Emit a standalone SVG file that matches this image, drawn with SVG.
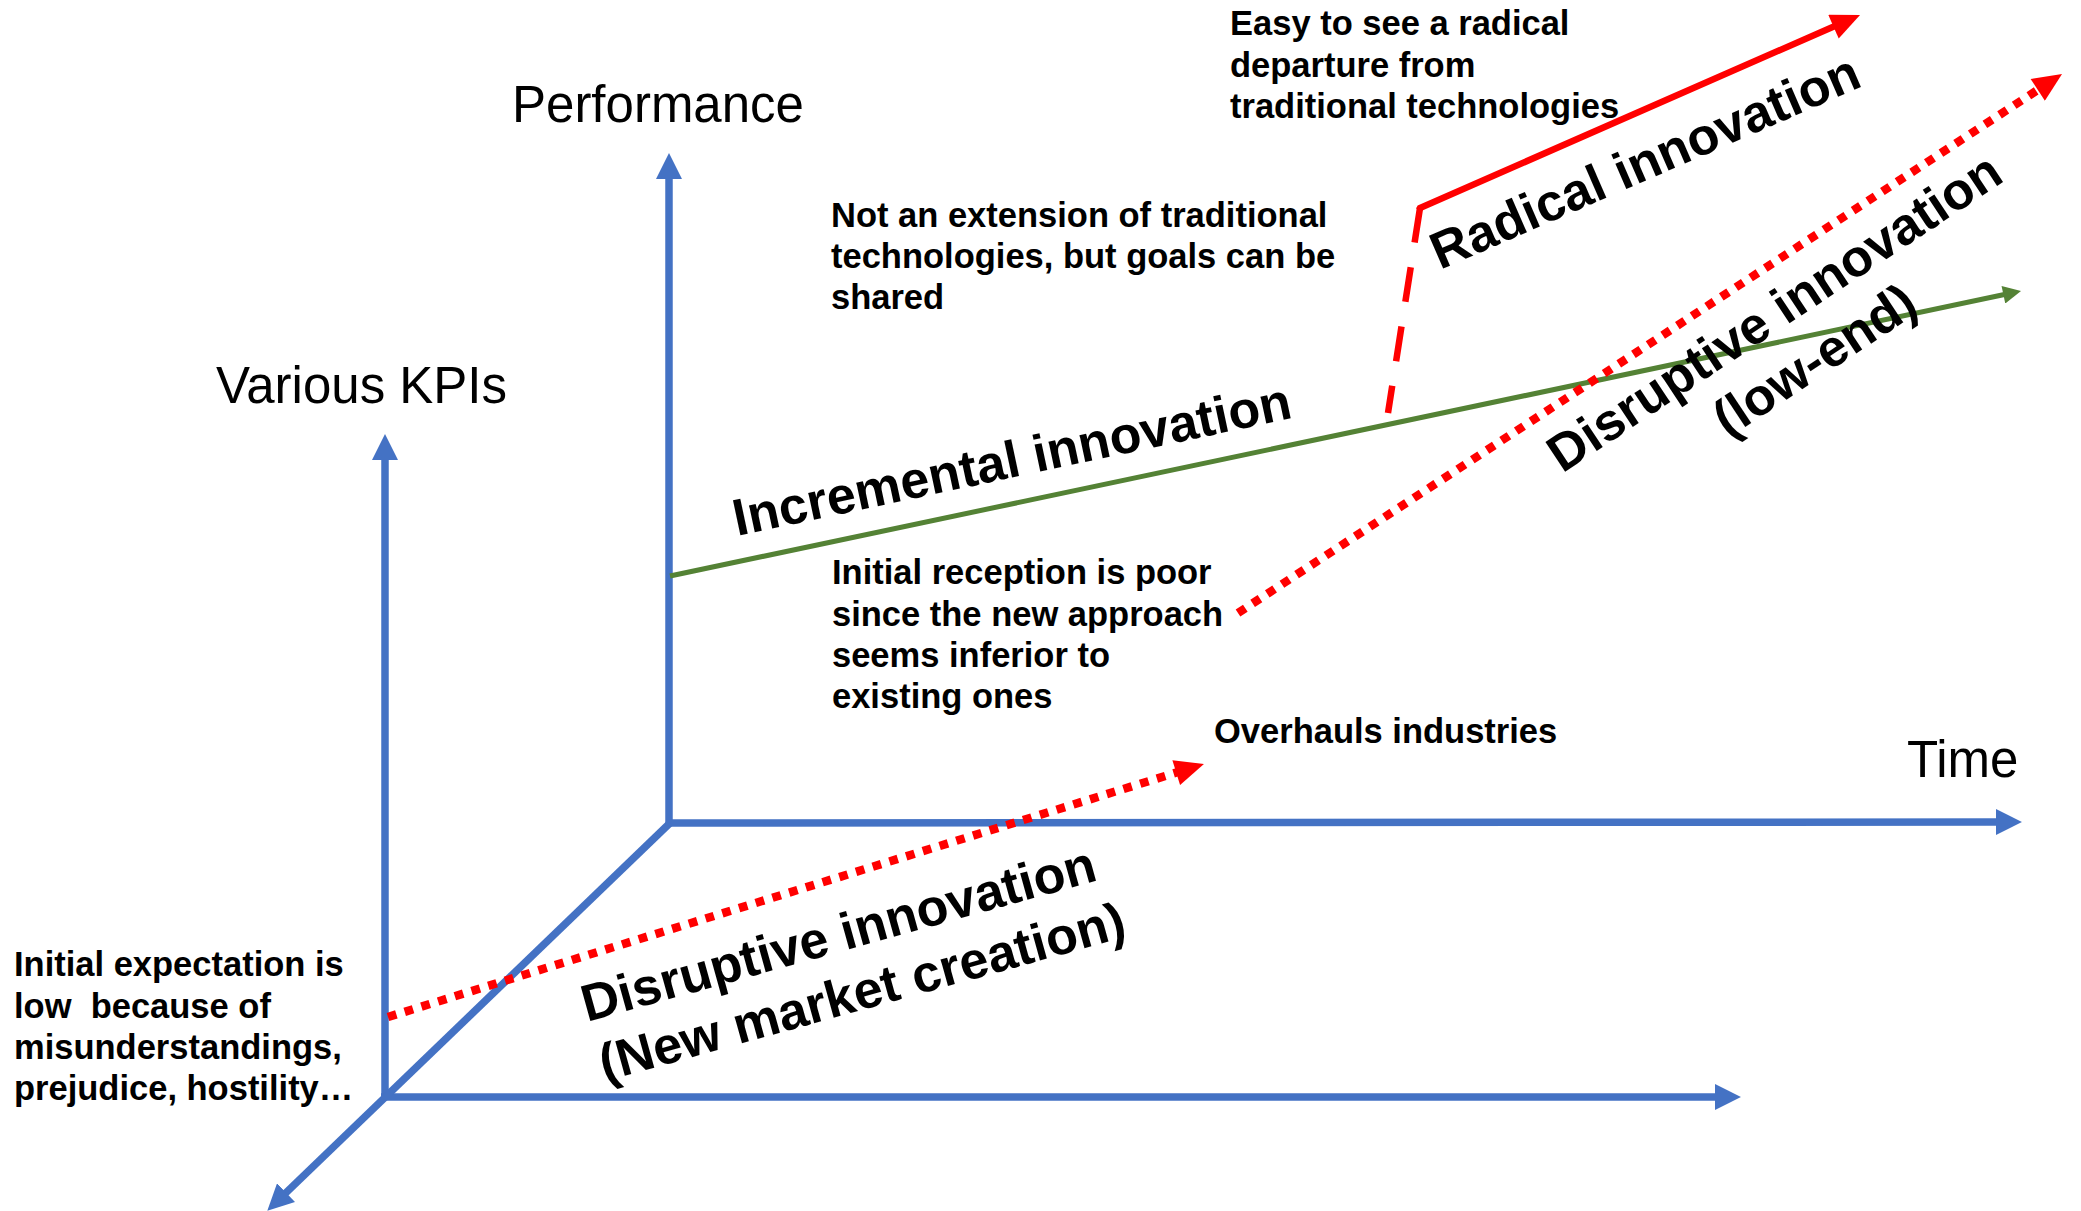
<svg xmlns="http://www.w3.org/2000/svg" width="2081" height="1211" viewBox="0 0 2081 1211">
  <style>
    .axis { stroke: #4472C4; stroke-width: 7.5; fill: none; }
    .green { stroke: #548235; stroke-width: 5; fill: none; }
    .red { stroke: #FF0000; stroke-width: 6.5; fill: none; }
    .dotted { stroke: #FF0000; stroke-width: 8.5; stroke-dasharray: 8.75 8.75; fill: none; }
    .dashed { stroke: #FF0000; stroke-width: 6.5; stroke-dasharray: 35 25; fill: none; }
    .axislabel { font-family: "Liberation Sans", Arial, sans-serif; font-size: 51px; fill: #000; }
    .note { font-family: "Liberation Sans", Arial, sans-serif; font-size: 34.5px; font-weight: bold; fill: #000; }
    .big { font-family: "Liberation Sans", Arial, sans-serif; font-size: 52px; font-weight: bold; fill: #000; }
  </style>
  <defs>
    <marker id="arrBlue" markerUnits="userSpaceOnUse" markerWidth="26" markerHeight="26" refX="1" refY="12.5" orient="auto" viewBox="0 0 25 25">
      <path d="M0,0 L25,12.5 L0,25 Z" fill="#4472C4"/>
    </marker>
    <marker id="arrGreen" markerUnits="userSpaceOnUse" markerWidth="19" markerHeight="18" refX="1" refY="9" orient="auto" viewBox="0 0 18 18">
      <path d="M0,0 L18,9 L0,18 Z" fill="#548235"/>
    </marker>
    <marker id="arrRed" markerUnits="userSpaceOnUse" markerWidth="30" markerHeight="26" refX="1" refY="13" orient="auto" viewBox="0 0 29 26">
      <path d="M0,0 L29,13 L0,26 Z" fill="#FF0000"/>
    </marker>
  </defs>

  <g id="connectors">
    <!-- Axes -->
    <path id="axis-performance" class="axis" d="M669,823 L669,178" marker-end="url(#arrBlue)"/>
    <path id="axis-time" class="axis" d="M666,823 L1997,822" marker-end="url(#arrBlue)"/>
    <path id="axis-kpi" class="axis" d="M385,1100 L385,459" marker-end="url(#arrBlue)"/>
    <path id="axis-bottom" class="axis" d="M381,1097 L1716,1097" marker-end="url(#arrBlue)"/>
    <path id="axis-depth" class="axis" d="M670,823 L285.3,1193.4" marker-end="url(#arrBlue)"/>

    <!-- Incremental innovation -->
    <path id="line-incremental" class="green" d="M670,576 L2004.4,294.5" marker-end="url(#arrGreen)"/>

    <!-- Radical innovation -->
    <path id="line-radical-dashed" class="dashed" d="M1420,208 L1388,413"/>
    <path id="line-radical" class="red" d="M1419,210 L1420,208 L1834.4,26.2" stroke-linejoin="miter" marker-end="url(#arrRed)"/>

    <!-- Disruptive innovation (low-end) -->
    <path id="line-lowend" class="dotted" d="M1238,613 L2038.6,89.3" marker-end="url(#arrRed)"/>

    <!-- Disruptive innovation (new market) -->
    <path id="line-newmarket" class="dotted" d="M388,1017 L1177.2,772.3" marker-end="url(#arrRed)"/>
  </g>

  <g id="label-performance"><text class="axislabel" x="512" y="122">Performance</text></g>
  <g id="label-kpis"><text class="axislabel" x="216" y="403">Various KPIs</text></g>
  <g id="label-time"><text class="axislabel" x="1907" y="777">Time</text></g>

  <g id="note-radical">
    <text class="note" x="1230" y="35">Easy to see a radical</text>
    <text class="note" x="1230" y="76.5">departure from</text>
    <text class="note" x="1230" y="118">traditional technologies</text>
  </g>
  <g id="note-extension">
    <text class="note" x="831" y="227">Not an extension of traditional</text>
    <text class="note" x="831" y="268">technologies, but goals can be</text>
    <text class="note" x="831" y="309">shared</text>
  </g>
  <g id="note-reception">
    <text class="note" x="832" y="584">Initial reception is poor</text>
    <text class="note" x="832" y="625.5">since the new approach</text>
    <text class="note" x="832" y="667">seems inferior to</text>
    <text class="note" x="832" y="708">existing ones</text>
  </g>
  <g id="note-overhauls">
    <text class="note" x="1214" y="743">Overhauls industries</text>
  </g>
  <g id="note-expectation">
    <text class="note" x="14" y="976">Initial expectation is</text>
    <text class="note" x="14" y="1017.5" xml:space="preserve" style="white-space:pre">low  because of</text>
    <text class="note" x="14" y="1059">misunderstandings,</text>
    <text class="note" x="14" y="1100">prejudice, hostility…</text>
  </g>

  <g id="label-incremental">
    <text class="big" transform="translate(737,536) rotate(-12)">Incremental innovation</text>
  </g>
  <g id="label-radical">
    <text class="big" transform="translate(1440,270) rotate(-23.5)">Radical innovation</text>
  </g>
  <g id="label-lowend">
    <text class="big" text-anchor="middle" transform="translate(1790,323) rotate(-33.5)">
      <tspan x="0" y="0">Disruptive innovation</tspan>
      <tspan x="0" y="62">(low-end)</tspan>
    </text>
  </g>
  <g id="label-newmarket">
    <text class="big" text-anchor="middle" transform="translate(850,949) rotate(-15.5)">
      <tspan x="0" y="0">Disruptive innovation</tspan>
      <tspan x="0" y="62">(New market creation)</tspan>
    </text>
  </g>
</svg>
